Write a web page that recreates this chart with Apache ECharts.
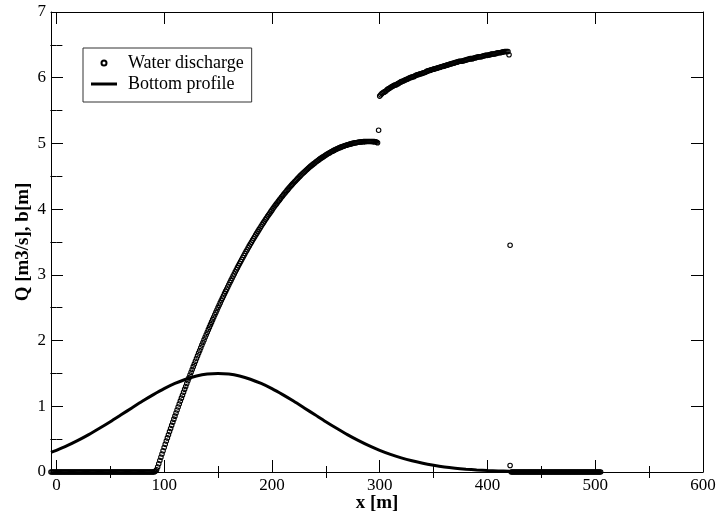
<!DOCTYPE html>
<html>
<head>
<meta charset="utf-8">
<script src="https://cdn.jsdelivr.net/npm/echarts@6/dist/echarts.min.js"></script>
<style>html,body{margin:0;padding:0;background:#fff}#c{width:718px;height:518px}</style>
</head>
<body>
<div id="c"></div>
<script>
// ---- data ----
const xMajorTicks = [0, 100, 200, 300, 400, 500, 600];
const xMinorTicks = [50, 150, 250, 350, 450, 550];
const yMajorTicks = [0, 1, 2, 3, 4, 5, 6, 7];
const yMinorTicks = [0.5, 1.5, 2.5, 3.5, 4.5, 5.5, 6.5];

// Water discharge Q [m3/s] as [x, Q]
const dischargeLeft = [[-4,0],[-2,0],[0,0],[2,0],[4,0],[6,0],[8,0],[10,0],[12,0],[14,0],[16,0],[18,0],[20,0],[22,0],[24,0],[26,0],[28,0],[30,0],[32,0],[34,0],[36,0],[38,0],[40,0],[42,0],[44,0],[46,0],[48,0],[50,0],[52,0],[54,0],[56,0],[58,0],[60,0],[62,0],[64,0],[66,0],[68,0],[70,0],[72,0],[74,0],[76,0],[78,0],[80,0],[82,0],[84,0],[86,0],[88,0],[89,0]];
const dischargeLeftOdd = [[-5,0],[-3,0],[-1,0],[1,0],[3,0],[5,0],[7,0],[9,0],[11,0],[13,0],[15,0],[17,0],[19,0],[21,0],[23,0],[25,0],[27,0],[29,0],[31,0],[33,0],[35,0],[37,0],[39,0],[41,0],[43,0],[45,0],[47,0],[49,0],[51,0],[53,0],[55,0],[57,0],[59,0],[61,0],[63,0],[65,0],[67,0],[69,0],[71,0],[73,0],[75,0],[77,0],[79,0],[81,0],[83,0],[85,0],[87,0]];
const dischargeRise = [[90,0],[91,0.005],[92,0.015],[93,0.035],[94,0.075],[95,0.125],[96,0.175],[97,0.225],[98,0.275],[99,0.324],[100,0.373],[101,0.422],[102,0.471],[103,0.519],[104,0.567],[105,0.615],[106,0.663],[107,0.710],[108,0.757],[109,0.804],[110,0.850],[111,0.897],[112,0.943],[113,0.989],[114,1.034],[115,1.079],[116,1.124],[117,1.169],[118,1.214],[119,1.258],[120,1.302],[121,1.346],[122,1.389],[123,1.432],[124,1.475],[125,1.518],[126,1.560],[127,1.603],[128,1.644],[129,1.686],[130,1.728],[131,1.769],[132,1.810],[133,1.850],[134,1.891],[135,1.931],[136,1.971],[137,2.010],[138,2.050],[139,2.089],[140,2.127],[141,2.166],[142,2.204],[143,2.242],[144,2.280],[145,2.318],[146,2.355],[147,2.392],[148,2.429],[149,2.465],[150,2.502],[151,2.538],[152,2.573],[153,2.609],[154,2.644],[155,2.679],[156,2.714],[157,2.748],[158,2.782],[159,2.816],[160,2.850],[161,2.883],[162,2.916],[163,2.949],[164,2.982],[165,3.014],[166,3.046],[167,3.078],[168,3.110],[169,3.141],[170,3.172],[172,3.234],[174,3.294],[176,3.354],[178,3.412],[180,3.469],[182,3.525],[184,3.581],[186,3.635],[188,3.688],[190,3.740],[192,3.791],[194,3.841],[196,3.890],[198,3.938],[200,3.985],[202,4.031],[204,4.076],[206,4.120],[208,4.163],[210,4.204],[212,4.245],[214,4.285],[216,4.324],[218,4.361],[220,4.398],[222,4.433],[224,4.468],[226,4.502],[228,4.534],[230,4.566],[232,4.596],[234,4.625],[236,4.654],[238,4.681],[240,4.707],[242,4.733],[244,4.757],[246,4.780],[248,4.802],[250,4.824],[252,4.844],[254,4.863],[256,4.881],[258,4.898],[260,4.914],[262,4.929],[264,4.943],[266,4.956],[268,4.968],[270,4.978],[272,4.988],[274,4.997],[276,5.005],[278,5.011],[280,5.017],[282,5.022],[284,5.025],[286,5.028],[288,5.030],[290,5.030],[292,5.030],[294,5.028],[296,5.025],[298,5.010]];
const dischargeRiseOdd = [[171,3.203],[173,3.264],[175,3.324],[177,3.383],[179,3.441],[181,3.497],[183,3.553],[185,3.608],[187,3.661],[189,3.714],[191,3.766],[193,3.816],[195,3.866],[197,3.914],[199,3.962],[201,4.008],[203,4.054],[205,4.098],[207,4.141],[209,4.184],[211,4.225],[213,4.265],[215,4.304],[217,4.343],[219,4.380],[221,4.416],[223,4.451],[225,4.485],[227,4.518],[229,4.550],[231,4.581],[233,4.611],[235,4.640],[237,4.668],[239,4.694],[241,4.720],[243,4.745],[245,4.769],[247,4.791],[249,4.813],[251,4.834],[253,4.853],[255,4.872],[257,4.890],[259,4.906],[261,4.922],[263,4.936],[265,4.949],[267,4.962],[269,4.973],[271,4.983],[273,4.993],[275,5.001],[277,5.008],[279,5.014],[281,5.020],[283,5.024],[285,5.027],[287,5.029],[289,5.030],[291,5.030],[293,5.029],[295,5.027],[297,5.020]];
const dischargeUpper = [[300,5.72],[302,5.76],[304,5.78],[306,5.80],[308,5.83],[310,5.85],[312,5.87],[314,5.89],[316,5.90],[318,5.92],[320,5.94],[322,5.95],[324,5.97],[326,5.98],[328,6.00],[330,6.01],[332,6.02],[334,6.04],[336,6.05],[338,6.06],[340,6.07],[342,6.08],[344,6.10],[346,6.11],[348,6.12],[350,6.13],[352,6.14],[354,6.15],[356,6.16],[358,6.17],[360,6.18],[362,6.19],[364,6.20],[366,6.21],[368,6.22],[370,6.23],[372,6.24],[374,6.25],[376,6.25],[378,6.26],[380,6.27],[382,6.28],[384,6.29],[386,6.29],[388,6.30],[390,6.31],[392,6.32],[394,6.32],[396,6.33],[398,6.34],[400,6.34],[402,6.35],[404,6.36],[406,6.36],[408,6.37],[410,6.38],[412,6.38],[414,6.39],[416,6.40],[418,6.40],[420,6.35]];
const dischargeUpperOdd = [[301,5.74],[303,5.77],[305,5.79],[307,5.82],[309,5.84],[311,5.86],[313,5.88],[315,5.89],[317,5.91],[319,5.93],[321,5.945],[323,5.96],[325,5.975],[327,5.99],[329,6.005],[331,6.015],[333,6.03],[335,6.045],[337,6.055],[339,6.065],[341,6.075],[343,6.09],[345,6.105],[347,6.115],[349,6.125],[351,6.135],[353,6.145],[355,6.155],[357,6.165],[359,6.175],[361,6.185],[363,6.195],[365,6.205],[367,6.215],[369,6.225],[371,6.235],[373,6.245],[375,6.25],[377,6.255],[379,6.265],[381,6.275],[383,6.285],[385,6.29],[387,6.295],[389,6.305],[391,6.315],[393,6.32],[395,6.325],[397,6.335],[399,6.34],[401,6.345],[403,6.355],[405,6.36],[407,6.365],[409,6.375],[411,6.38],[413,6.385],[415,6.395],[417,6.40],[419,6.40]];
const dischargeOutliers = [[299,5.20],[421,3.45],[421,0.10]];
const dischargeRight = [[422,0],[424,0],[426,0],[428,0],[430,0],[432,0],[434,0],[436,0],[438,0],[440,0],[442,0],[444,0],[446,0],[448,0],[450,0],[452,0],[454,0],[456,0],[458,0],[460,0],[462,0],[464,0],[466,0],[468,0],[470,0],[472,0],[474,0],[476,0],[478,0],[480,0],[482,0],[484,0],[486,0],[488,0],[490,0],[492,0],[494,0],[496,0],[498,0],[500,0],[502,0],[504,0]];
const dischargeRightOdd = [[423,0],[425,0],[427,0],[429,0],[431,0],[433,0],[435,0],[437,0],[439,0],[441,0],[443,0],[445,0],[447,0],[449,0],[451,0],[453,0],[455,0],[457,0],[459,0],[461,0],[463,0],[465,0],[467,0],[469,0],[471,0],[473,0],[475,0],[477,0],[479,0],[481,0],[483,0],[485,0],[487,0],[489,0],[491,0],[493,0],[495,0],[497,0],[499,0],[501,0],[503,0],[505,0]];

// Bottom profile b [m] as [x, b]
const bottomProfile = [[-5,0.298],[0,0.330],[10,0.401],[20,0.481],[30,0.569],[40,0.665],[50,0.765],[60,0.870],[70,0.975],[80,1.079],[90,1.177],[100,1.268],[110,1.347],[120,1.412],[130,1.460],[140,1.490],[150,1.500],[160,1.490],[170,1.460],[180,1.412],[190,1.347],[200,1.268],[210,1.177],[220,1.079],[230,0.975],[240,0.870],[250,0.765],[260,0.665],[270,0.569],[280,0.481],[290,0.401],[300,0.330],[310,0.268],[320,0.215],[330,0.170],[340,0.132],[350,0.102],[360,0.077],[370,0.058],[380,0.043],[390,0.031],[400,0.022],[410,0.016],[420,0.011],[430,0.008],[440,0.005],[450,0.004],[460,0.002],[470,0.001],[480,0.001],[490,0],[500,0],[505,0]];

const seriesNames = ['Water discharge', 'Bottom profile'];
const xTitle = 'x [m]';
const yTitle = 'Q [m3/s], b[m]';

// ---- chart ----
const FONT = '"Liberation Serif", "Times New Roman", serif';
const BLACK = '#000';

function xAx(position, ticks, len, opts) {
  return Object.assign({
    type: 'value', position: position, min: -5, max: 600,
    axisLine: { show: true, onZero: false, lineStyle: { color: BLACK, width: 1 } },
    axisTick: { show: true, inside: true, length: len, customValues: ticks, lineStyle: { color: BLACK, width: 1 } },
    axisLabel: { show: false },
    splitLine: { show: false }, minorTick: { show: false }, minorSplitLine: { show: false }
  }, opts || {});
}
function yAx(position, ticks, len, opts) {
  return Object.assign({
    type: 'value', position: position, min: 0, max: 7,
    axisLine: { show: true, onZero: false, lineStyle: { color: BLACK, width: 1 } },
    axisTick: { show: true, inside: true, length: len, customValues: ticks, lineStyle: { color: BLACK, width: 1 } },
    axisLabel: { show: false },
    splitLine: { show: false }, minorTick: { show: false }, minorSplitLine: { show: false }
  }, opts || {});
}

const chart = echarts.init(document.getElementById('c'), null, { renderer: 'canvas' });
chart.setOption({
  animation: false,
  backgroundColor: '#fff',
  grid: { left: 51, right: 15, top: 12, bottom: 46, outerBoundsMode: 'none', containLabel: false },
  xAxis: [
    xAx('bottom', xMajorTicks, 12, {
      axisLabel: { show: true, customValues: xMajorTicks, color: BLACK, fontFamily: FONT, fontSize: 17, margin: 5 },
      name: xTitle, nameLocation: 'middle', nameGap: 22, nameMoveOverlap: false,
      nameTextStyle: { color: BLACK, fontFamily: FONT, fontSize: 19, fontWeight: 'bold' }
    }),
    xAx('bottom', xMinorTicks, 6, { axisLine: { show: false } }),
    xAx('top', xMajorTicks, 12),
    xAx('top', xMinorTicks, 6, { axisLine: { show: false } })
  ],
  yAxis: [
    yAx('left', yMajorTicks, 12, {
      axisLabel: { show: true, customValues: yMajorTicks, color: BLACK, fontFamily: FONT, fontSize: 17, margin: 5 },
      name: yTitle, nameLocation: 'middle', nameGap: 18, nameRotate: 90, nameMoveOverlap: false,
      nameTextStyle: { color: BLACK, fontFamily: FONT, fontSize: 19, fontWeight: 'bold' }
    }),
    yAx('left', yMinorTicks, 6, { axisLine: { show: false } }),
    yAx('right', yMajorTicks, 12),
    yAx('right', yMinorTicks, 6, { axisLine: { show: false } })
  ],
  legend: {
    show: true, orient: 'vertical', left: 83, top: 48,
    padding: [6, 8, 9, 8], itemGap: 3, itemWidth: 26, itemHeight: 5,
    borderColor: '#333', borderWidth: 1, borderRadius: 0, backgroundColor: '#fff',
    symbolKeepAspect: true,
    textStyle: { color: BLACK, fontFamily: FONT, fontSize: 18, lineHeight: 18, padding: [0, 0, 0, 6] },
    data: [
      seriesNames[0],
      { name: seriesNames[1], icon: 'path://M0,0H26V3H0Z', itemStyle: { color: BLACK, borderWidth: 0 } }
    ]
  },
  series: [
    {
      name: seriesNames[0], type: 'scatter', xAxisIndex: 0, yAxisIndex: 0,
      symbol: 'circle', symbolSize: 4.5,
      itemStyle: { color: 'rgba(255,255,255,0)', borderColor: BLACK, borderWidth: 1.1, opacity: 1 },
      emphasis: { disabled: true },
      data: [].concat(dischargeLeft, dischargeLeftOdd, dischargeRise, dischargeRiseOdd, dischargeOutliers,
                      dischargeUpper, dischargeUpperOdd, dischargeRight, dischargeRightOdd),
      z: 3
    },
    {
      name: seriesNames[1], type: 'line', xAxisIndex: 0, yAxisIndex: 0,
      smooth: 0.3, symbol: 'none', showSymbol: false,
      lineStyle: { color: BLACK, width: 3 },
      itemStyle: { color: BLACK },
      emphasis: { disabled: true },
      data: bottomProfile,
      z: 2
    }
  ]
});
</script>
</body>
</html>
